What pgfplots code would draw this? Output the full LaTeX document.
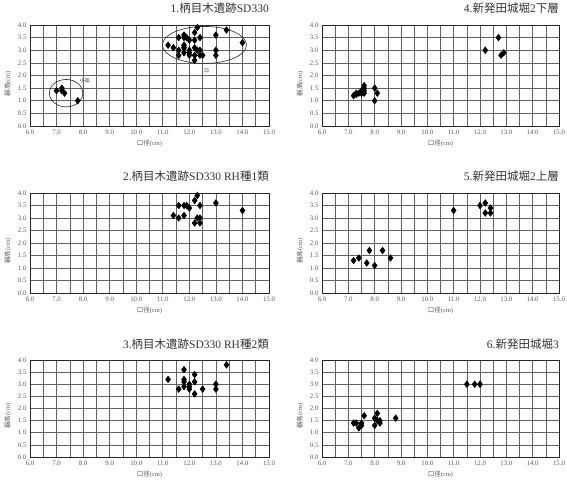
\documentclass[border=0pt]{standalone}
\usepackage{fontspec}
\setmainfont{Liberation Serif}
\newfontfamily\jp{Noto Sans CJK JP}
\usepackage{pgfplots}
\usepackage{pgfplotstable}
\pgfplotsset{compat=1.18}

\pgfplotstableread{
x y
7.0 1.4
7.2 1.5
7.2 1.4
7.3 1.3
7.8 1.0
}\smalldish
\pgfplotstableread{
x y
11.4 3.1
11.6 3.0
11.8 3.1
11.6 3.5
11.8 3.5
11.9 3.5
12.0 3.4
12.2 3.7
12.3 3.9
12.4 3.5
12.2 2.8
12.3 3.0
12.4 2.8
12.4 3.0
13.0 3.6
14.0 3.3
}\rhone
\pgfplotstableread{
x y
11.2 3.2
11.6 2.8
11.8 3.6
11.8 3.2
11.8 3.1
11.8 2.9
12.0 3.0
12.0 2.9
12.0 2.8
12.2 3.4
12.2 3.1
12.2 2.6
12.5 2.8
13.0 3.0
13.0 2.8
13.4 3.8
}\rhtwo
\pgfplotstableread{
x y
7.2 1.2
7.3 1.25
7.3 1.3
7.4 1.3
7.5 1.3
7.5 1.4
7.6 1.3
7.6 1.4
7.6 1.5
7.6 1.6
8.0 1.5
8.0 1.0
8.1 1.3
12.2 3.0
12.7 3.5
12.8 2.8
12.9 2.9
}\shibatalow
\pgfplotstableread{
x y
7.2 1.3
7.4 1.4
7.7 1.2
7.8 1.7
8.0 1.1
8.3 1.7
8.6 1.4
11.0 3.3
12.0 3.5
12.2 3.6
12.2 3.2
12.4 3.4
12.4 3.2
}\shibataup
\pgfplotstableread{
x y
7.2 1.4
7.3 1.4
7.4 1.2
7.5 1.3
7.5 1.4
7.6 1.7
8.0 1.3
8.0 1.6
8.1 1.8
8.1 1.5
8.2 1.4
8.2 1.5
8.8 1.6
11.5 3.0
11.8 3.0
12.0 3.0
}\shibatathree

\pgfplotsset{
  panel/.style={
    scale only axis, width=239pt, height=100pt,
    xmin=6, xmax=15, ymin=0, ymax=4,
    xtick={6,7,...,15}, minor xtick={6.5,7.5,...,14.5},
    ytick={0,0.5,1,1.5,2,2.5,3,3.5,4},
    grid=both,
    major grid style={black!62, line width=0.6pt},
    minor grid style={black!62, line width=0.6pt},
    axis line style={black!85, line width=0.8pt},
    major tick length=0pt, minor tick length=0pt,
    tick style={draw=none},
    /pgf/number format/assume math mode=true,
    tick label style={font=\fontsize{6.8}{7}\selectfont, text=black!65,
      /pgf/number format/.cd, fixed, fixed zerofill, precision=1},
    xlabel={{\jp 口径}(cm)}, ylabel={{\jp 器高}(cm)},
    xlabel style={at={(axis description cs:0.5,0)}, anchor=center, yshift=-17pt,
      font=\fontsize{6.5}{7}\selectfont, text=black!65},
    ylabel style={at={(axis description cs:-0.093,0.42)}, anchor=center, rotate=0,
      font=\fontsize{6.5}{7}\selectfont, text=black!65},
    title style={at={(1,1)}, anchor=base east, inner sep=0pt, yshift=6pt,
      font=\fontsize{11.5}{13}\selectfont, text=black!80},
  },
  dots/.style={only marks, mark=diamond*, mark size=3.1pt, black,
    mark options={fill=black, draw=black, line width=0.8pt}},
}

\begin{document}
\begin{tikzpicture}
\useasboundingbox (0,0) rectangle (567pt,479pt);

% 1
\begin{axis}[panel, height=101pt, at={(30pt,454pt)}, anchor=north west,
  title={1.{\jp 柄目木遺跡}SD330}]
\addplot[dots] table {\smalldish};
\addplot[dots] table {\rhone};
\addplot[dots] table {\rhtwo};
\draw[black!85, line width=0.6pt] (axis cs:7.36,1.3) ellipse [x radius=16.7pt, y radius=13.7pt];
\draw[black!85, line width=0.6pt] (axis cs:12.57,3.21) ellipse [x radius=42pt, y radius=18.5pt];
\node[font=\jp\fontsize{5}{6}\selectfont, text=black!80] at (axis cs:8.07,1.8) {小皿};
\node[font=\jp\fontsize{5}{6}\selectfont, text=black!60] at (axis cs:12.65,2.2) {皿};
\end{axis}

% 4
\begin{axis}[panel, width=237pt, height=101pt, at={(322pt,454pt)}, anchor=north west,
  title={4.{\jp 新発田城堀}2{\jp 下層}}]
\addplot[dots] table {\shibatalow};
\end{axis}

% 2
\begin{axis}[panel, height=100pt, at={(30pt,286pt)}, anchor=north west,
  title={2.{\jp 柄目木遺跡}SD330 RH{\jp 種}1{\jp 類}}]
\addplot[dots] table {\rhone};
\end{axis}

% 5
\begin{axis}[panel, width=237pt, height=100pt, at={(322pt,286pt)}, anchor=north west,
  title={5.{\jp 新発田城堀}2{\jp 上層}}]
\addplot[dots] table {\shibataup};
\end{axis}

% 3
\begin{axis}[panel, height=97pt, at={(30pt,119pt)}, anchor=north west,
  title={3.{\jp 柄目木遺跡}SD330 RH{\jp 種}2{\jp 類}}]
\addplot[dots] table {\rhtwo};
\end{axis}

% 6
\begin{axis}[panel, width=237pt, height=97pt, at={(322pt,119pt)}, anchor=north west,
  title={6.{\jp 新発田城堀}3}]
\addplot[dots] table {\shibatathree};
\end{axis}
\end{tikzpicture}
\end{document}
